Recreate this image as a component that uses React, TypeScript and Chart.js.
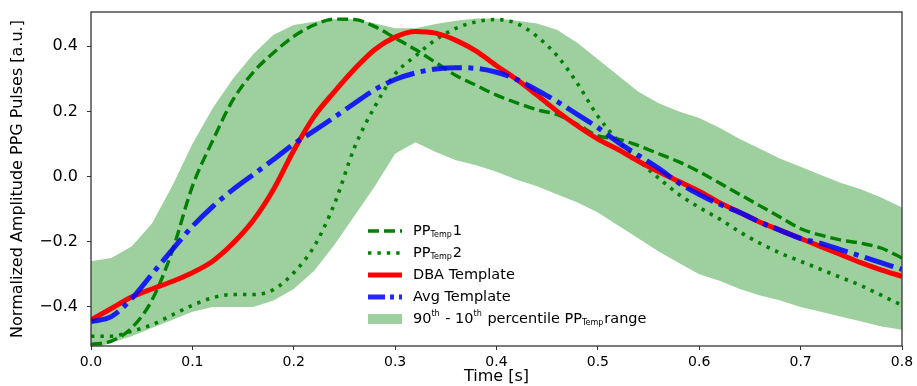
import React, { useEffect, useRef } from 'react';
import { Chart, registerables } from 'chart.js';

Chart.register(...registerables);

// ---- data ----
const timeS = [
  0.0, 0.02, 0.04, 0.06, 0.08, 0.1, 0.12, 0.14, 0.16, 0.18,
  0.2, 0.22, 0.24, 0.26, 0.28, 0.3, 0.32, 0.34, 0.36, 0.38,
  0.4, 0.42, 0.44, 0.46, 0.48, 0.5, 0.52, 0.54, 0.56, 0.58,
  0.6, 0.62, 0.64, 0.66, 0.68, 0.7, 0.72, 0.74, 0.76, 0.78, 0.8,
];

const percentile90 = [
  -0.26, -0.25, -0.215, -0.145, -0.03, 0.1, 0.21, 0.3, 0.375, 0.435,
  0.465, 0.475, 0.483, 0.483, 0.47, 0.455, 0.455, 0.468, 0.478, 0.485,
  0.485, 0.478, 0.47, 0.45, 0.41, 0.36, 0.31, 0.26, 0.225, 0.2,
  0.18, 0.15, 0.115, 0.085, 0.055, 0.03, 0.005, -0.02, -0.04, -0.065, -0.095,
];

const percentile10 = [
  -0.53, -0.51, -0.49, -0.465, -0.44, -0.415, -0.4, -0.4, -0.4, -0.38,
  -0.345, -0.29, -0.21, -0.12, -0.03, 0.07, 0.105, 0.075, 0.05, 0.035,
  0.015, -0.01, -0.03, -0.055, -0.08, -0.11, -0.15, -0.19, -0.23, -0.265,
  -0.3, -0.32, -0.345, -0.365, -0.38, -0.4, -0.415, -0.43, -0.445, -0.46, -0.47,
];

const ppTemp1 = [
  -0.515, -0.505, -0.465, -0.38, -0.23, -0.03, 0.11, 0.235, 0.32, 0.38,
  0.43, 0.465, 0.483, 0.482, 0.46, 0.425, 0.39, 0.35, 0.31, 0.28,
  0.25, 0.226, 0.205, 0.19, 0.16, 0.125, 0.115, 0.095, 0.07, 0.045,
  0.015, -0.02, -0.055, -0.09, -0.125, -0.16, -0.18, -0.195, -0.205, -0.22, -0.25,
];

const ppTemp2 = [
  -0.49, -0.49, -0.475, -0.455, -0.425, -0.395, -0.372, -0.362, -0.362, -0.347,
  -0.295, -0.215, -0.085, 0.09, 0.215, 0.315, 0.37, 0.42, 0.455, 0.475,
  0.482, 0.47, 0.43, 0.37, 0.285, 0.185, 0.11, 0.05, -0.005, -0.055,
  -0.095, -0.13, -0.17, -0.205, -0.235, -0.26, -0.285, -0.31, -0.335, -0.365, -0.395,
];

const dbaTemplate = [
  -0.44, -0.405, -0.37, -0.345, -0.322, -0.295, -0.26, -0.205, -0.135, -0.04,
  0.08, 0.184, 0.26, 0.33, 0.39, 0.428, 0.445, 0.44, 0.418, 0.385,
  0.34, 0.298, 0.25, 0.2, 0.155, 0.115, 0.083, 0.047, 0.015, -0.015,
  -0.045, -0.08, -0.11, -0.14, -0.165, -0.19, -0.215, -0.24, -0.265, -0.287, -0.306,
];

const avgTemplate = [
  -0.445, -0.43, -0.375, -0.3, -0.225, -0.153, -0.092, -0.04, 0.006, 0.052,
  0.1, 0.14, 0.182, 0.225, 0.267, 0.298, 0.318, 0.33, 0.334, 0.332,
  0.32, 0.298, 0.265, 0.23, 0.19, 0.15, 0.105, 0.065, 0.025, -0.02,
  -0.055, -0.085, -0.11, -0.14, -0.165, -0.19, -0.205, -0.225, -0.245, -0.265, -0.285,
];

const xTicks = [0, 0.1, 0.2, 0.3, 0.4, 0.5, 0.6, 0.7, 0.8];
const yTicks = [-0.4, -0.2, 0.0, 0.2, 0.4];

const X_MIN = 0;
const X_MAX = 0.8;
const Y_MIN = -0.52;
const Y_MAX = 0.505;

// ---- styles ----
const GREEN = '#008000';
const BAND = 'rgba(0,128,0,0.38)';
const RED = '#ff0000';
const BLUE = 'rgba(0,0,255,0.85)';
const FONT = "'DejaVu Sans', sans-serif";

const DASH_PP1 = [11, 5];
const DASH_PP2 = [3.4, 6];
const DASH_AVG = [30, 6.5, 5, 6.5];

type Part = [string, '' | 'sub' | 'sup'];
type LegendItem = {
  kind: 'line' | 'patch';
  color: string;
  width: number;
  dash: number[];
  parts: Part[];
};

const legendItems: LegendItem[] = [
  { kind: 'line', color: GREEN, width: 3.4, dash: DASH_PP1, parts: [['PP', ''], ['Temp', 'sub'], ['1', '']] },
  { kind: 'line', color: GREEN, width: 3.6, dash: DASH_PP2, parts: [['PP', ''], ['Temp', 'sub'], ['2', '']] },
  { kind: 'line', color: RED, width: 5, dash: [], parts: [['DBA Template', '']] },
  { kind: 'line', color: BLUE, width: 5, dash: [17, 5, 4, 5], parts: [['Avg Template', '']] },
  {
    kind: 'patch', color: BAND, width: 0, dash: [],
    parts: [['90', ''], ['th', 'sup'], [' - 10', ''], ['th', 'sup'], [' percentile PP', ''], ['Temp', 'sub'], ['range', '']],
  },
];

const toPts = (ys: number[]) => ys.map((y, i) => ({ x: timeS[i], y }));
const fmt = (v: number) => {
  const s = (Math.abs(v) < 1e-9 ? 0 : v).toFixed(1);
  return s.replace('-', '\u2212');
};

const framePlugin = {
  id: 'frame',
  afterDatasetsDraw(chart: any) {
    const { ctx, chartArea: a } = chart;
    ctx.save();
    ctx.strokeStyle = '#333333';
    ctx.lineWidth = 1.3;
    ctx.setLineDash([]);
    ctx.strokeRect(a.left, a.top, a.right - a.left, a.bottom - a.top);
    ctx.restore();
  },
};

const legendPlugin = {
  id: 'customLegend',
  afterDatasetsDraw(chart: any) {
    const { ctx } = chart;
    const x0 = 368;
    const x1 = 402;
    const textX = 413;
    const y0 = 231;
    const rowH = 22;
    const mainSize = 14.5;
    const smallSize = 8;
    ctx.save();
    legendItems.forEach((item, i) => {
      const y = y0 + i * rowH;
      if (item.kind === 'line') {
        ctx.beginPath();
        ctx.strokeStyle = item.color;
        ctx.lineWidth = item.width;
        ctx.lineCap = 'butt';
        ctx.setLineDash(item.dash);
        ctx.moveTo(x0, y);
        ctx.lineTo(x1, y);
        ctx.stroke();
        ctx.setLineDash([]);
      } else {
        ctx.fillStyle = item.color;
        ctx.fillRect(x0, y - 5, x1 - x0, 10);
      }
      let x = textX;
      ctx.fillStyle = '#000';
      ctx.textAlign = 'left';
      ctx.textBaseline = 'middle';
      item.parts.forEach(([txt, kind]) => {
        if (kind === '') {
          ctx.font = `${mainSize}px ${FONT}`;
          ctx.fillText(txt, x, y);
        } else {
          ctx.font = `${smallSize}px ${FONT}`;
          ctx.fillText(txt, x, kind === 'sub' ? y + 4 : y - 5);
        }
        x += ctx.measureText(txt).width + (kind === '' ? 0 : 1);
      });
    });
    ctx.restore();
  },
};

export default function App() {
  const canvasRef = useRef<HTMLCanvasElement | null>(null);

  useEffect(() => {
    const canvas = canvasRef.current;
    if (!canvas) return;
    const lineBase = { pointRadius: 0, fill: false, borderCapStyle: 'butt', borderJoinStyle: 'round', cubicInterpolationMode: 'monotone' };
    const chart = new Chart(canvas, {
      type: 'line',
      data: {
        datasets: [
          {
            label: '10th percentile',
            data: toPts(percentile10),
            borderWidth: 0,
            borderColor: 'rgba(0,0,0,0)',
            pointRadius: 0,
            fill: false,
            order: 5,
          },
          {
            label: '90th - 10th percentile PPTemp range',
            data: toPts(percentile90),
            borderWidth: 0,
            borderColor: 'rgba(0,0,0,0)',
            backgroundColor: BAND,
            pointRadius: 0,
            fill: 0,
            order: 4,
          },
          {
            ...lineBase,
            label: 'PPTemp1',
            data: toPts(ppTemp1),
            borderColor: GREEN,
            borderWidth: 3.4,
            borderDash: DASH_PP1,
            order: 3,
          },
          {
            ...lineBase,
            label: 'PPTemp2',
            data: toPts(ppTemp2),
            borderColor: GREEN,
            borderWidth: 3.6,
            borderDash: DASH_PP2,
            order: 2,
          },
          {
            ...lineBase,
            label: 'DBA Template',
            data: toPts(dbaTemplate),
            borderColor: RED,
            borderWidth: 5,
            order: 1,
          },
          {
            ...lineBase,
            label: 'Avg Template',
            data: toPts(avgTemplate),
            borderColor: BLUE,
            borderWidth: 5,
            borderDash: DASH_AVG,
            order: 0,
          },
        ] as any,
      },
      options: {
        animation: false,
        responsive: false,
        devicePixelRatio: 1,
        layout: { padding: { left: 0, top: 12, right: 15, bottom: 0 } },
        plugins: {
          legend: { display: false },
          tooltip: { enabled: false },
          title: { display: false },
        },
        scales: {
          x: {
            type: 'linear',
            min: X_MIN,
            max: X_MAX,
            afterFit: (s: any) => { s.height = 40; s.paddingLeft = 0; s.paddingRight = 0; },
            afterBuildTicks: (s: any) => { s.ticks = xTicks.map((v) => ({ value: v })); },
            ticks: {
              callback: (v: any) => fmt(Number(v)),
              font: { family: FONT, size: 14 },
              color: '#000',
              padding: 4,
              maxRotation: 0,
              autoSkip: false,
            },
            grid: { drawOnChartArea: false, drawTicks: true, tickLength: 4, color: '#333', lineWidth: 1 },
            border: { display: false },
            title: {
              display: true,
              text: 'Time [s]',
              font: { family: FONT, size: 16 },
              color: '#000',
              padding: { top: 0, bottom: 0 },
            },
          },
          y: {
            type: 'linear',
            min: Y_MIN,
            max: Y_MAX,
            afterFit: (s: any) => { s.width = 91; s.paddingTop = 0; s.paddingBottom = 0; },
            afterBuildTicks: (s: any) => { s.ticks = yTicks.map((v) => ({ value: v })); },
            ticks: {
              callback: (v: any) => fmt(Number(v)),
              font: { family: FONT, size: 16 },
              color: '#000',
              padding: 9,
              autoSkip: false,
            },
            grid: { drawOnChartArea: false, drawTicks: true, tickLength: 4, color: '#333', lineWidth: 1 },
            border: { display: false },
            title: {
              display: true,
              text: 'Normalized Amplitude PPG Pulses [a.u.]',
              font: { family: FONT, size: 16 },
              color: '#000',
              padding: { top: 8, bottom: 0 },
            },
          },
        },
      } as any,
      plugins: [framePlugin, legendPlugin],
    });
    return () => chart.destroy();
  }, []);

  return (
    <div style={{ position: 'absolute', left: 0, top: 0, width: 917, height: 386, background: '#fff' }}>
      <canvas ref={canvasRef} width={917} height={386} style={{ display: 'block' }} />
    </div>
  );
}
